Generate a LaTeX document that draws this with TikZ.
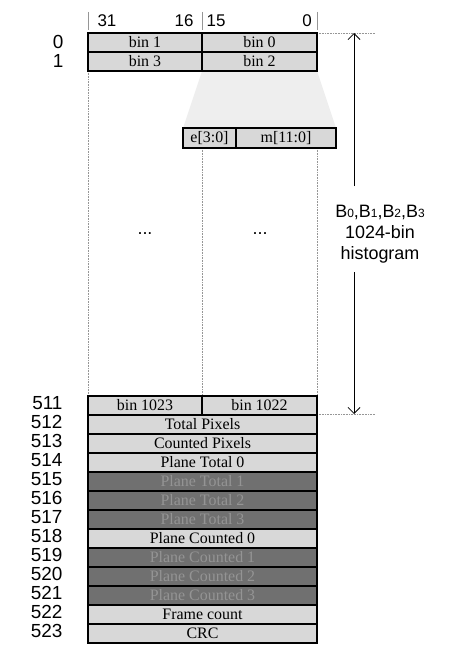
\documentclass[tikz,border=0pt]{standalone}
\usepackage{fontspec}
\setmainfont{Liberation Serif}
\setsansfont{Liberation Sans}
\usetikzlibrary{arrows.meta}
\definecolor{cellgray}{RGB}{216,216,216}
\definecolor{darkcell}{RGB}{112,112,112}
\definecolor{darktext}{RGB}{148,148,148}
\definecolor{guide}{RGB}{150,150,150}
\definecolor{trap}{RGB}{238,238,238}
\newcommand{\smallsub}[1]{\raisebox{-0.5bp}{\fontsize{12}{12}\selectfont #1}}
\tikzset{
  cell/.style={draw=black, line width=1.6bp, fill=cellgray, inner sep=0pt, font=\fontsize{16}{16}\selectfont},
  darkrow/.style={cell, fill=darkcell, text=darktext},
  rowlab/.style={font=\sffamily\fontsize{19}{19}\selectfont, anchor=base east},
  hdr/.style={font=\sffamily\fontsize{17}{17}\selectfont, anchor=base},
  guideline/.style={draw=guide, line width=0.6bp, densely dotted},
  tick/.style={draw=guide, line width=0.8bp},
  dim/.style={draw=black, line width=0.8bp},
}
\begin{document}
\begin{tikzpicture}[x=1bp,y=-1bp]
\useasboundingbox (0,0) rectangle (453,660);
% trapezoid
\fill[trap] (202,71) -- (317,71) -- (336,128) -- (183,128) -- cycle;
% guides
\draw[tick] (88,12) -- (88,30);
\draw[tick] (202,12) -- (202,30);
\draw[tick] (317,12) -- (317,30);
\draw[guideline] (88,71) -- (88,396);
\draw[guideline] (202,148) -- (202,396);
\draw[guideline] (317,148) -- (317,396);
\coordinate (gtopL) at (317,33);
\coordinate (gtopR) at (376,33);
\coordinate (gbotL) at (317,414);
\coordinate (gbotR) at (376,414);
\draw[guideline] (gtopL) -- (gtopR);
\draw[guideline] (gbotL) -- (gbotR);
% header
\node[hdr] (h31) at (107,27) {31};
\node[hdr] (h16) at (184,27) {16};
\node[hdr] (h15) at (216,27) {15};
\node[hdr] (h0) at (307,27) {0};
% top rows
\node[cell, minimum width=114bp, minimum height=19bp] (b1) at (145,42.5) {bin 1};
\node[cell, minimum width=115bp, minimum height=19bp] (b0) at (259.5,42.5) {bin 0};
\node[cell, minimum width=114bp, minimum height=19bp] (b3) at (145,61.5) {bin 3};
\node[cell, minimum width=115bp, minimum height=19bp] (b2) at (259.5,61.5) {bin 2};
\node[rowlab] (l0) at (67,48.5) {0};
\node[rowlab] (l1) at (67,67.5) {1};
% expanded box
\node[cell, minimum width=53bp, minimum height=20bp] (e) at (209.5,138) {e[3:0]};
\node[cell, minimum width=100bp, minimum height=20bp] (m) at (286,138) {m[11:0]};
% dots
\node[font=\sffamily\fontsize{18}{18}\selectfont] (d1) at (145,234) {...};
\node[font=\sffamily\fontsize{18}{18}\selectfont] (d2) at (260,234) {...};
% bottom rows
\node[cell, minimum width=114bp, minimum height=19bp] (b1023) at (145,405.5) {bin 1023};
\node[cell, minimum width=115bp, minimum height=19bp] (b1022) at (259.5,405.5) {bin 1022};
\node[rowlab] (l511) at (66,409.5) {511};
\foreach \k/\txt/\sty in {1/Total Pixels/cell, 2/Counted Pixels/cell, 3/Plane Total 0/cell, 4/Plane Total 1/darkrow, 5/Plane Total 2/darkrow, 6/Plane Total 3/darkrow, 7/Plane Counted 0/cell, 8/Plane Counted 1/darkrow, 9/Plane Counted 2/darkrow, 10/Plane Counted 3/darkrow, 11/Frame count/cell, 12/CRC/cell}{
  \pgfmathsetmacro{\yy}{405.5+19*\k}
  \pgfmathsetmacro{\yb}{409.5+19*\k}
  \pgfmathtruncatemacro{\num}{511+\k}
  \node[\sty, minimum width=229bp, minimum height=19bp] (r\k) at (202.5,\yy) {\txt};
  \node[rowlab] (lr\k) at (66,\yb) {\num};
}
% dimension arrow
\node[font=\sffamily\fontsize{18}{21.5}\selectfont, align=center, inner sep=0pt, anchor=north] (lab) at (380,204.5) {B\smallsub{0},B\smallsub{1},B\smallsub{2},B\smallsub{3}\\1024-bin\\histogram};
\coordinate (atop) at (354,33);
\coordinate (abot) at (354,414);
\coordinate (agap1) at (354,186);
\coordinate (agap2) at (354,272);
\draw[dim, -{Straight Barb[length=6bp,width=12bp]}] (agap1) -- (atop);
\draw[dim, -{Straight Barb[length=6bp,width=12bp]}] (agap2) -- (abot);
\end{tikzpicture}
\end{document}
